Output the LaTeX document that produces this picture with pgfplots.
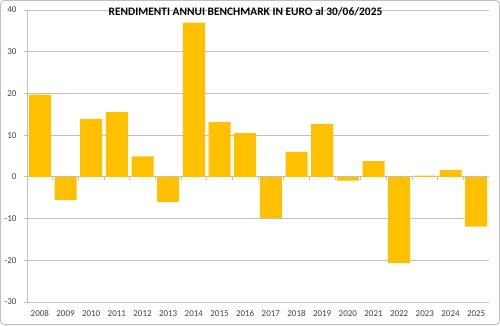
\documentclass[border=0pt]{standalone}
\usepackage{fontspec}
\setmainfont{Carlito}
\usepackage{pgfplots}
\pgfplotsset{compat=1.18}
\definecolor{baryellow}{HTML}{FFC000}
\definecolor{gridgray}{HTML}{BFBFBF}
\definecolor{labgray}{HTML}{404040}
\begin{document}
\begin{tikzpicture}
\draw[gridgray, line width=0.8pt, rounded corners=4pt] (-26.6pt,-22.6pt) rectangle (472.6pt,301.6pt);
\begin{axis}[
  at={(0pt,0pt)}, anchor=south west,
  scale only axis, width=462pt, height=292pt,
  ymin=-30, ymax=40, ytick={-30,-20,...,40},
  xmin=-0.5, xmax=17.5,
  xtick={0,...,17},
  xticklabels={2008,2009,2010,2011,2012,2013,2014,2015,2016,2017,2018,2019,2020,2021,2022,2023,2024,2025},
  axis lines*=left,
  x axis line style={draw=none},
  y axis line style={gridgray, line width=0.8pt},
  ymajorgrids, grid style={gridgray, line width=0.8pt},
  xtick style={draw=none},
  ytick style={gridgray, line width=0.8pt},
  tick align=outside, major tick length=3pt,
  /pgf/number format/assume math mode=true,
  ticklabel style={font=\fontsize{9pt}{10pt}\selectfont, text=labgray},
  yticklabel style={xshift=-4pt},
  xticklabel style={yshift=-2pt},
  title={\textbf{RENDIMENTI ANNUI BENCHMARK IN EURO al 30/06/2025}},
  title style={at={(0.4729,1)}, anchor=north, inner sep=0pt, yshift=-3.5pt, font=\fontsize{11.4pt}{13pt}\selectfont},
  ybar, bar width=22pt,
]
\draw[gridgray, line width=0.8pt] (axis cs:-0.5,0) -- (axis cs:17.5,0);
\pgfplotsinvokeforeach{0.5,1.5,...,16.5}{
  \draw[gridgray, line width=0.8pt] (axis cs:#1,0) -- ++(0pt,-3pt);
}
\addplot[fill=baryellow, draw=none] coordinates {
(0,19.7) (1,-5.6) (2,13.9) (3,15.5) (4,4.9) (5,-6.0) (6,37.0) (7,13.1) (8,10.5)
(9,-9.9) (10,6.0) (11,12.7) (12,-0.9) (13,3.8) (14,-20.7) (15,0.3) (16,1.6) (17,-11.9)
};
\end{axis}
\end{tikzpicture}
\end{document}
